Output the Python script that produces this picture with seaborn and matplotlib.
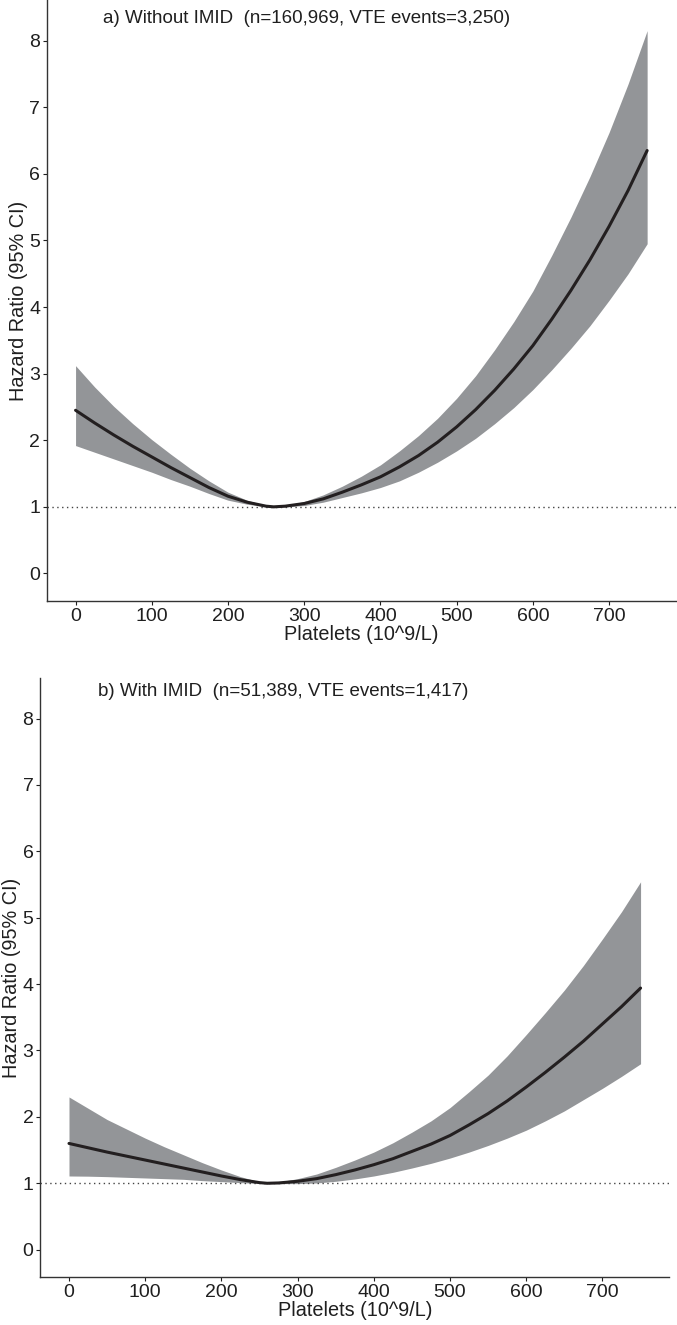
import numpy as np
import pandas as pd
import matplotlib
matplotlib.use("Agg")
import matplotlib.pyplot as plt
from matplotlib import font_manager
import seaborn as sns

platelets = [0, 25, 50, 75, 100, 125, 150, 175, 200, 225, 250, 260, 275, 300, 325, 350,
             375, 400, 425, 450, 475, 500, 525, 550, 575, 600, 625, 650, 675, 700, 725, 750]

# panel a) without IMID
hr_a = [2.45, 2.26, 2.08, 1.91, 1.75, 1.59, 1.44, 1.29, 1.16, 1.07, 1.01, 1.0, 1.01, 1.05, 1.12, 1.22,
        1.33, 1.45, 1.60, 1.77, 1.97, 2.20, 2.46, 2.75, 3.07, 3.42, 3.82, 4.25, 4.71, 5.21, 5.75, 6.35]
upper_a = [3.12, 2.80, 2.51, 2.25, 2.01, 1.79, 1.58, 1.39, 1.22, 1.10, 1.018, 1.0, 1.02, 1.08, 1.18, 1.31,
           1.46, 1.63, 1.84, 2.07, 2.33, 2.63, 2.97, 3.36, 3.78, 4.24, 4.78, 5.35, 5.96, 6.62, 7.35, 8.15]
lower_a = [1.92, 1.82, 1.72, 1.62, 1.52, 1.41, 1.31, 1.20, 1.10, 1.04, 1.002, 1.0, 1.0, 1.02, 1.07, 1.14,
           1.21, 1.29, 1.39, 1.52, 1.67, 1.84, 2.03, 2.25, 2.49, 2.76, 3.06, 3.38, 3.72, 4.10, 4.50, 4.95]

# panel b) with IMID
hr_b = [1.60, 1.535, 1.47, 1.41, 1.35, 1.29, 1.23, 1.17, 1.11, 1.055, 1.01, 1.0, 1.005, 1.03, 1.07, 1.13,
        1.20, 1.28, 1.37, 1.48, 1.59, 1.72, 1.88, 2.05, 2.24, 2.45, 2.67, 2.90, 3.14, 3.40, 3.66, 3.94]
upper_b = [2.30, 2.13, 1.96, 1.82, 1.68, 1.55, 1.43, 1.31, 1.20, 1.10, 1.022, 1.0, 1.02, 1.07, 1.14, 1.24,
           1.35, 1.47, 1.61, 1.77, 1.94, 2.14, 2.38, 2.63, 2.92, 3.24, 3.57, 3.91, 4.28, 4.68, 5.09, 5.54]
lower_b = [1.11, 1.107, 1.10, 1.09, 1.08, 1.07, 1.06, 1.04, 1.025, 1.01, 0.998, 1.0, 0.995, 0.995, 1.005, 1.03,
           1.065, 1.11, 1.165, 1.23, 1.30, 1.38, 1.47, 1.57, 1.68, 1.80, 1.94, 2.09, 2.26, 2.43, 2.61, 2.80]

titles = ["a) Without IMID  (n=160,969, VTE events=3,250)",
          "b) With IMID  (n=51,389, VTE events=1,417)"]
xticks = [0, 100, 200, 300, 400, 500, 600, 700]
yticks = [0, 1, 2, 3, 4, 5, 6, 7, 8]

sns.set_theme(style="ticks")
names = {f.name for f in font_manager.fontManager.ttflist}
if "Liberation Sans Narrow" in names:
    fam, k = "Liberation Sans Narrow", 1.2
else:
    fam, k = "Liberation Sans", 1.0
plt.rcParams["font.family"] = [fam, "DejaVu Sans"]

ink = "#1f1f1f"
band = "#939598"

fig = plt.figure(figsize=(6.77, 13.25), dpi=100)
ax_a = fig.add_axes([0.0694, 0.5466, 0.9287, 0.4534])
ax_b = fig.add_axes([0.0597, 0.0363, 0.9287, 0.4520])

panels = [
    (ax_a, hr_a, lower_a, upper_a, titles[0], (36, 8.33)),
    (ax_b, hr_b, lower_b, upper_b, titles[1], (38, 8.40)),
]

for ax, hr, lo, up, title, pos in panels:
    df = pd.DataFrame({"platelets": platelets, "hr": hr, "lo": lo, "up": up})
    ax.fill_between(df["platelets"], df["lo"], df["up"], color=band, linewidth=0, zorder=1)
    sns.lineplot(data=df, x="platelets", y="hr", ax=ax, color="#231f20", linewidth=2.2, zorder=3)
    ax.axhline(1, color="#444444", linestyle=(0, (1, 2.5)), linewidth=1.0, zorder=2)
    ax.set_xlim(-37.5, 787.5)
    ax.set_ylim(-0.41, 8.61)
    ax.set_xticks(xticks)
    ax.set_yticks(yticks)
    ax.text(pos[0], pos[1], title, ha="left", va="center", fontsize=13.5 * k, color=ink)
    ax.set_xlabel("Platelets (10^9/L)", fontsize=14.3 * k, color=ink, labelpad=0)
    ax.set_ylabel("Hazard Ratio (95% CI)", fontsize=14.3 * k, color=ink, labelpad=1)
    ax.tick_params(axis="both", labelsize=14 * k, colors=ink, length=3, width=0.8, pad=2)
    for s in ["top", "right"]:
        ax.spines[s].set_visible(False)
    for s in ["left", "bottom"]:
        ax.spines[s].set_color("#333333")
        ax.spines[s].set_linewidth(1.0)

fig.savefig("out.png", dpi=100)
